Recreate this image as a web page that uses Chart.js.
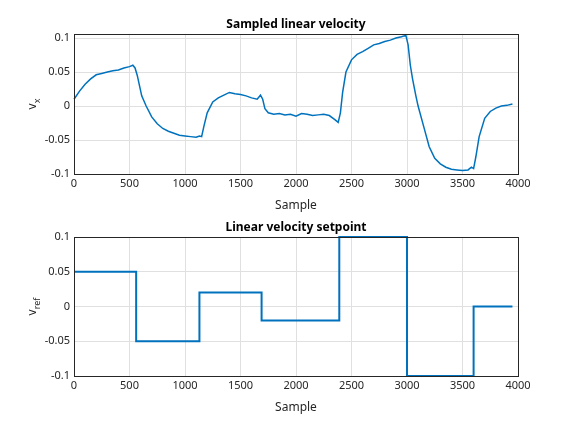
<!DOCTYPE html>
<html><head><meta charset="utf-8">
<script src="https://cdn.jsdelivr.net/npm/chart.js@4"></script>
<style>body{margin:0;background:#fff;width:568px;height:426px;position:relative;overflow:hidden}
canvas{position:absolute;left:0}</style></head><body>
<div style="position:absolute;left:0;top:0;width:568px;height:213px"><canvas id="c1"></canvas></div>
<div style="position:absolute;left:0;top:200px;width:568px;height:226px"><canvas id="c2"></canvas></div>
<script>
const sampleX=[0,50,100,150,200,250,300,350,400,450,500,530,550,570,590,610,650,700,750,800,850,900,950,1000,1050,1100,1130,1150,1170,1200,1250,1300,1350,1400,1450,1500,1550,1600,1650,1680,1700,1720,1750,1800,1850,1900,1950,2000,2050,2100,2150,2200,2250,2300,2350,2380,2400,2420,2450,2500,2550,2600,2650,2700,2750,2800,2850,2900,2950,2990,3010,3030,3050,3080,3100,3150,3200,3250,3300,3350,3400,3450,3500,3550,3580,3600,3620,3650,3700,3750,3800,3850,3900,3950];
const vx=[0.01,0.022,0.032,0.04,0.046,0.048,0.05,0.052,0.053,0.056,0.058,0.06,0.056,0.045,0.03,0.015,0.0,-0.016,-0.026,-0.033,-0.037,-0.04,-0.043,-0.044,-0.045,-0.046,-0.044,-0.045,-0.03,-0.01,0.006,0.012,0.016,0.02,0.018,0.017,0.015,0.012,0.01,0.016,0.01,-0.004,-0.01,-0.012,-0.011,-0.013,-0.012,-0.015,-0.011,-0.012,-0.014,-0.013,-0.012,-0.014,-0.02,-0.024,-0.01,0.02,0.05,0.068,0.076,0.08,0.085,0.09,0.092,0.095,0.097,0.1,0.102,0.104,0.09,0.06,0.04,0.015,0.0,-0.03,-0.06,-0.077,-0.085,-0.09,-0.093,-0.094,-0.095,-0.094,-0.09,-0.092,-0.075,-0.045,-0.018,-0.008,-0.003,0.0,0.001,0.003];
const refX=[0,560,1130,1690,2390,3000,3600,3950];
const vref=[0.05,-0.05,0.02,-0.02,0.1,-0.1,0,0];
const xTicks=[0,500,1000,1500,2000,2500,3000,3500,4000];
const FONT="'Noto Sans', sans-serif";
function mk(id,data,step,title,sub,ymax,padTop,padBot){
  const deco={id:'deco',afterDraw(ch){const c=ch.ctx,a=ch.chartArea;c.save();
    c.strokeStyle='#262626';c.lineWidth=1;c.strokeRect(a.left+0.5,a.top+0.5,a.right-a.left,a.bottom-a.top);
    c.fillStyle='#000';c.font="bold 12px "+FONT;c.textAlign='center';c.textBaseline='bottom';
    c.fillText(title,(a.left+a.right)/2,a.top-3);
    c.translate(36,(a.top+a.bottom)/2);c.rotate(-Math.PI/2);c.fillStyle='#262626';
    c.font="12px "+FONT;c.textAlign='left';c.textBaseline='alphabetic';
    const w1=c.measureText('v').width;c.font="9px "+FONT;const w2=c.measureText(sub).width;
    const s=-(w1+w2)/2;c.font="12px "+FONT;c.fillText('v',s,0);c.font="9px "+FONT;c.fillText(sub,s+w1,4);
    c.restore();}};
  new Chart(document.getElementById(id),{type:'line',
    data:{datasets:[{data:data,borderColor:'#0072BD',borderWidth:step?2:1.5,pointRadius:0,stepped:step?'before':false,tension:0,clip:4}]},
    options:{responsive:true,maintainAspectRatio:false,animation:false,
      layout:{padding:{top:padTop,right:50,left:0,bottom:padBot}},
      plugins:{legend:{display:false},tooltip:{enabled:false}},
      scales:{
        x:{type:'linear',min:0,max:4000,afterBuildTicks(s){s.ticks=xTicks.map(v=>({value:v}));},
          afterFit(s){s.height=39;},
          grid:{color:'#e0e0e0',drawTicks:false},border:{display:false},
          ticks:{color:'#262626',font:{family:FONT,size:11},padding:3,maxRotation:0,callback:v=>String(v)},
          title:{display:true,text:'Sample',color:'#262626',font:{family:FONT,size:12},padding:0}},
        y:{min:-0.1,max:ymax,afterBuildTicks(s){s.ticks=[-0.1,-0.05,0,0.05,0.1].map(v=>({value:v}));},
          afterFit(s){s.width=74;},
          grid:{color:'#e0e0e0',drawTicks:false},border:{display:false},
          ticks:{color:'#262626',font:{family:FONT,size:11},padding:4,callback:v=>String(Math.round(v*100)/100)}}}},
    plugins:[deco]});
}
mk('c1',sampleX.map((x,i)=>({x:x,y:vx[i]})),false,'Sampled linear velocity','x',0.106,34,0);
mk('c2',refX.map((x,i)=>({x:x,y:vref[i]})),true,'Linear velocity setpoint','ref',0.1,37,11);
</script></body></html>
